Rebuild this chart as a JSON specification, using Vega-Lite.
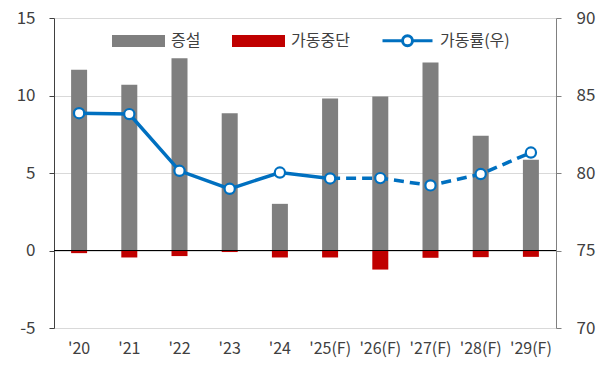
{
  "$schema": "https://vega.github.io/schema/vega-lite/v6.json",
  "width": 502,
  "height": 310,
  "autosize": {"type": "none"},
  "padding": {"left": 54, "top": 18, "right": 50, "bottom": 37},
  "config": {
    "view": {"stroke": null},
    "font": "Noto Sans CJK KR",
    "axis": {"labelColor": "#404040", "labelFont": "Noto Sans CJK KR"},
    "legend": {"labelFont": "Noto Sans CJK KR"}
  },
  "datasets": {
    "bars": [
      {"year": "'20", "series": "증설", "value": 11.66},
      {"year": "'21", "series": "증설", "value": 10.69},
      {"year": "'22", "series": "증설", "value": 12.4},
      {"year": "'23", "series": "증설", "value": 8.86},
      {"year": "'24", "series": "증설", "value": 3.01},
      {"year": "'25(F)", "series": "증설", "value": 9.8},
      {"year": "'26(F)", "series": "증설", "value": 9.94},
      {"year": "'27(F)", "series": "증설", "value": 12.13},
      {"year": "'28(F)", "series": "증설", "value": 7.4},
      {"year": "'29(F)", "series": "증설", "value": 5.85},
      {"year": "'20", "series": "가동중단", "value": -0.17},
      {"year": "'21", "series": "가동중단", "value": -0.45},
      {"year": "'22", "series": "가동중단", "value": -0.36},
      {"year": "'23", "series": "가동중단", "value": -0.1},
      {"year": "'24", "series": "가동중단", "value": -0.45},
      {"year": "'25(F)", "series": "가동중단", "value": -0.45},
      {"year": "'26(F)", "series": "가동중단", "value": -1.23},
      {"year": "'27(F)", "series": "가동중단", "value": -0.47},
      {"year": "'28(F)", "series": "가동중단", "value": -0.43},
      {"year": "'29(F)", "series": "가동중단", "value": -0.41}
    ],
    "rate": [
      {"year": "'20", "series": "가동률(우)", "rate": 83.86},
      {"year": "'21", "series": "가동률(우)", "rate": 83.8},
      {"year": "'22", "series": "가동률(우)", "rate": 80.14},
      {"year": "'23", "series": "가동률(우)", "rate": 78.98},
      {"year": "'24", "series": "가동률(우)", "rate": 80.03},
      {"year": "'25(F)", "series": "가동률(우)", "rate": 79.65},
      {"year": "'26(F)", "series": "가동률(우)", "rate": 79.67},
      {"year": "'27(F)", "series": "가동률(우)", "rate": 79.2},
      {"year": "'28(F)", "series": "가동률(우)", "rate": 79.93},
      {"year": "'29(F)", "series": "가동률(우)", "rate": 81.32}
    ],
    "zero": [{"base": 0}]
  },
  "layer": [
    {
      "layer": [
        {
          "data": {"name": "bars"},
          "mark": {"type": "bar", "width": 16},
          "encoding": {
            "x": {
              "field": "year", "type": "nominal",
              "sort": ["'20", "'21", "'22", "'23", "'24", "'25(F)", "'26(F)", "'27(F)", "'28(F)", "'29(F)"],
              "scale": {"paddingInner": 0, "paddingOuter": 0},
              "axis": {"title": null, "labelAngle": 0, "domain": false, "ticks": false, "labelFontSize": 16, "labelPadding": 12, "labelColor": "#404040"}
            },
            "y": {
              "field": "value", "type": "quantitative", "stack": null,
              "scale": {"domain": [-5, 15], "nice": false},
              "axis": {"title": null, "values": [-5, 0, 5, 10, 15], "labelExpr": "'' + datum.value", "grid": true, "gridColor": "#d9d9d9", "domainColor": "#404040", "tickColor": "#404040", "tickSize": 5, "labelPadding": 14, "labelFontSize": 17}
            },
            "color": {
              "field": "series", "type": "nominal",
              "scale": {"domain": ["증설", "가동중단", "가동률(우)"], "range": ["#7f7f7f", "#c00000", "#0070c0"]},
              "legend": {
                "title": null,
                "orient": "none",
                "legendX": 58,
                "legendY": -4,
                "direction": "horizontal",
                "symbolSize": 2500,
                "labelFontSize": 16,
                "labelColor": "#404040",
                "labelOffset": 6,
                "columnPadding": 26,
                "encode": {
                  "symbols": {
                    "update": {
                      "shape": [
                        {"test": "datum.value === '가동률(우)'", "value": "M-1,0H-0.2M0.2,0H1M-0.2,0A0.2,0.2,0,1,1,0.2,0A0.2,0.2,0,1,1,-0.2,0A0.2,0.2,0,1,0,0.2,0A0.2,0.2,0,1,0,-0.2,0"},
                        {"value": "M-1,-0.18H1V0.18H-1Z"}
                      ],
                      "size": {"value": 2500},
                      "stroke": [
                        {"test": "datum.value === '가동률(우)'", "value": "#0070c0"},
                        {"value": "transparent"}
                      ],
                      "strokeWidth": {"value": 3},
                      "opacity": {"value": 1}
                    }
                  }
                }
              }
            }
          }
        },
        {
          "data": {"name": "zero"},
          "mark": {"type": "rule", "color": "#000000", "strokeWidth": 1},
          "encoding": {"y": {"field": "base", "type": "quantitative"}}
        }
      ]
    },
    {
      "data": {"name": "rate"},
      "layer": [
        {
          "transform": [{"filter": {"field": "year", "oneOf": ["'20", "'21", "'22", "'23", "'24", "'25(F)"]}}],
          "mark": {"type": "line", "strokeWidth": 3.5},
          "encoding": {
            "x": {"field": "year", "type": "nominal", "sort": ["'20", "'21", "'22", "'23", "'24", "'25(F)", "'26(F)", "'27(F)", "'28(F)", "'29(F)"]},
            "y": {
              "field": "rate", "type": "quantitative",
              "scale": {"domain": [70, 90], "nice": false},
              "axis": {"title": null, "orient": "right", "values": [70, 75, 80, 85, 90], "grid": false, "domainColor": "#808080", "tickColor": "#808080", "tickSize": 5, "labelPadding": 15, "labelFontSize": 17}
            },
            "color": {"field": "series", "type": "nominal"}
          }
        },
        {
          "transform": [{"filter": {"field": "year", "oneOf": ["'25(F)", "'26(F)", "'27(F)", "'28(F)", "'29(F)"]}}],
          "mark": {"type": "line", "strokeWidth": 3.5, "strokeDash": [10, 6]},
          "encoding": {
            "x": {"field": "year", "type": "nominal", "sort": ["'20", "'21", "'22", "'23", "'24", "'25(F)", "'26(F)", "'27(F)", "'28(F)", "'29(F)"]},
            "y": {"field": "rate", "type": "quantitative"},
            "color": {"field": "series", "type": "nominal"}
          }
        },
        {
          "mark": {"type": "point", "shape": "circle", "filled": true, "fill": "#ffffff", "stroke": "#0070c0", "strokeWidth": 2.2, "size": 105, "opacity": 1},
          "encoding": {
            "x": {"field": "year", "type": "nominal", "sort": ["'20", "'21", "'22", "'23", "'24", "'25(F)", "'26(F)", "'27(F)", "'28(F)", "'29(F)"]},
            "y": {"field": "rate", "type": "quantitative"}
          }
        }
      ]
    }
  ],
  "resolve": {"scale": {"y": "independent"}}
}
